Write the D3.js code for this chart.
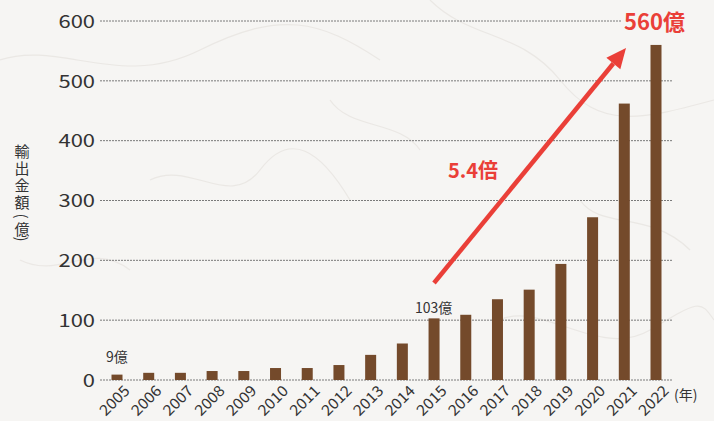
<!DOCTYPE html>
<html><head><meta charset="utf-8">
<script src="https://cdn.jsdelivr.net/npm/d3@7"></script>
<style>
html,body{margin:0;padding:0;background:#f6f5f3;}
svg{display:block;font-family:"Noto Sans CJK JP","Noto Sans",sans-serif;}
</style></head>
<body><svg id="c" width="714" height="421"></svg>
<script>
const years = ["2005","2006","2007","2008","2009","2010","2011","2012","2013","2014","2015","2016","2017","2018","2019","2020","2021","2022"];
const values = [9,12,12,15,15,20,20,25,42,61,103,109,135,151,194,272,462,560];
const yTicks = [0,100,200,300,400,500,600];

const FONT = "'Noto Sans CJK JP','Noto Sans',sans-serif";
const svg = d3.select("#c");
const W = 714, H = 421;
svg.append("rect").attr("width",W).attr("height",H).attr("fill","#f6f5f3");
const tex = svg.append("g").attr("fill","none").attr("stroke","#e8e5e1").attr("stroke-width",1.2).attr("opacity",0.8);
["M0,60 C60,40 120,90 200,50 S320,20 380,60","M430,0 C470,40 520,30 560,80 S640,120 714,100",
 "M150,180 C190,160 230,210 260,170 S320,150 350,200","M500,320 C540,300 600,360 650,330 S700,300 714,320",
 "M20,260 C60,280 90,240 130,270","M330,100 C350,130 400,120 420,150","M580,200 C600,230 650,210 690,250"]
 .forEach(d=>tex.append("path").attr("d",d));

const x = d3.scalePoint().domain(years).range([117,656]);
const bw = 11;
const y = d3.scaleLinear().domain([0,600]).range([380,21]);

// grid lines
const grid = svg.append("g");
yTicks.forEach(t=>{
  grid.append("line").attr("x1",100).attr("x2", t===600?622:672)
    .attr("y1",y(t)).attr("y2",y(t))
    .attr("stroke","#7a7a7a").attr("stroke-width",1).attr("stroke-dasharray","2,1");
});

// y axis labels
const yAxis = d3.axisLeft(y).tickValues(yTicks).tickSize(0).tickPadding(0);
const ya = svg.append("g").attr("transform","translate(95,0)").call(yAxis);
ya.select(".domain").remove();
ya.selectAll("text").attr("font-size",18).attr("fill","#333").attr("dy","0.35em")
  .attr("font-family",FONT).attr("transform","scale(1.22,1)");

// bars
svg.append("g").selectAll("rect").data(values).join("rect")
  .attr("x",(d,i)=>x(years[i])-bw/2).attr("width",bw)
  .attr("y",d=>y(d)).attr("height",d=>y(0)-y(d))
  .attr("fill","#744a2b");

// x axis labels (rotated)
svg.append("g").selectAll("text").data(years).join("text")
  .attr("transform",d=>`translate(${x(d)+10},388) rotate(-45) scale(1.06,1)`)
  .attr("text-anchor","end").attr("dy","0.35em")
  .attr("font-size",15).attr("fill","#333").attr("font-family",FONT)
  .text(d=>d);

svg.append("text").attr("x",674).attr("y",400).attr("font-size",14).attr("fill","#333").text("(年)");

// y title vertical, char by char
const titleChars = [["輸",150,0],["出",167,0],["金",184.5,0],["額",201.5,0],["(",216,90],["億",228,0],[")",239,90]];
svg.append("g").selectAll("text").data(titleChars).join("text")
  .attr("transform",d=>`translate(22,${d[1]}) rotate(${d[2]})`)
  .attr("text-anchor","middle").attr("dominant-baseline","central")
  .attr("font-size",15).attr("fill","#333").attr("font-family",FONT)
  .text(d=>d[0]);

// annotations
svg.append("text").attr("x",x("2005")-11).attr("y",362).attr("font-size",14).attr("fill","#333").text("9億");
svg.append("text").attr("x",x("2015")-19).attr("y",313).attr("font-size",14).attr("fill","#333").text("103億");

// arrow
const red = "#ea3f38";
const x0 = 434, y0 = 283, x1 = 626, y1 = 48;
const ang = Math.atan2(y1-y0, x1-x0);
const hl = 20, hw = 9;
const bx = x1 - hl*Math.cos(ang), by = y1 - hl*Math.sin(ang);
svg.append("line").attr("x1",x0).attr("y1",y0).attr("x2",bx).attr("y2",by)
  .attr("stroke",red).attr("stroke-width",4.5);
svg.append("path").attr("fill",red).attr("d",
  `M${x1},${y1} L${bx + hw*Math.sin(ang)},${by - hw*Math.cos(ang)} L${bx - hw*Math.sin(ang)},${by + hw*Math.cos(ang)} Z`);

svg.append("text").attr("x",448).attr("y",178).attr("font-size",20).attr("font-weight","bold").attr("fill",red).text("5.4倍");
svg.append("text").attr("x",624).attr("y",30).attr("font-size",22).attr("font-weight","bold").attr("fill",red).text("560億");
</script></body></html>
